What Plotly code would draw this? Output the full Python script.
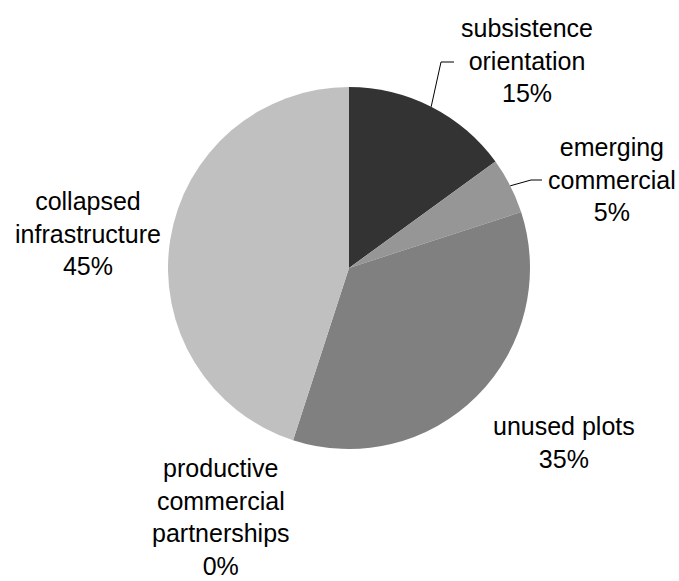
import math
import plotly.graph_objects as go

# Land-use categories, clockwise from 12 o'clock
categories = [
    "subsistence<br>orientation",
    "emerging<br>commercial",
    "unused plots",
    "productive<br>commercial<br>partnerships",
    "collapsed<br>infrastructure",
]
values = [15, 5, 35, 0, 45]
colors = ["#333333", "#969696", "#808080", "#5a5a5a", "#c0c0c0"]

# Label block centres (pixels from top-left) and optional leader elbows
label_pos = [(527, 61), (612, 180), (564, 443), (221, 517), (88, 233)]
leaders = {0: [(441, 62), (454, 62)], 1: [(531, 180), (542, 180)]}

W, H = 679, 581
cx, cy, r = 349, 268, 181

fig = go.Figure(
    go.Pie(
        labels=[c.replace("<br>", " ") for c in categories],
        values=values,
        sort=False,
        direction="clockwise",
        rotation=0,
        marker=dict(colors=colors, line=dict(width=0)),
        textinfo="none",
        hoverinfo="label+percent",
        showlegend=False,
        domain=dict(
            x=[(cx - r) / W, (cx + r) / W],
            y=[(H - cy - r) / H, (H - cy + r) / H],
        ),
    )
)

total = sum(values)
annotations = []
shapes = []
cum = 0.0
for i, (cat, v) in enumerate(zip(categories, values)):
    pct = round(v / total * 100)
    lx, ly = label_pos[i]
    annotations.append(
        dict(
            text=f"{cat}<br>{pct}%",
            x=lx / W,
            y=1 - ly / H,
            xref="paper",
            yref="paper",
            xanchor="center",
            yanchor="middle",
            showarrow=False,
            align="center",
            font=dict(family="Liberation Sans, Arial, sans-serif", size=25, color="#000000"),
        )
    )
    if i in leaders:
        mid = 2 * math.pi * (cum + v / 2) / total
        sx = cx + r * math.sin(mid)
        sy = cy - r * math.cos(mid)
        pts = [(sx, sy)] + leaders[i]
        for (x0, y0), (x1, y1) in zip(pts[:-1], pts[1:]):
            shapes.append(
                dict(
                    type="line",
                    xref="paper",
                    yref="paper",
                    x0=x0 / W,
                    y0=1 - y0 / H,
                    x1=x1 / W,
                    y1=1 - y1 / H,
                    line=dict(color="#000000", width=1),
                )
            )
    cum += v

fig.update_layout(
    width=W,
    height=H,
    margin=dict(l=0, r=0, t=0, b=0),
    paper_bgcolor="#ffffff",
    plot_bgcolor="#ffffff",
    annotations=annotations,
    shapes=shapes,
)

fig.write_html("out.html")
